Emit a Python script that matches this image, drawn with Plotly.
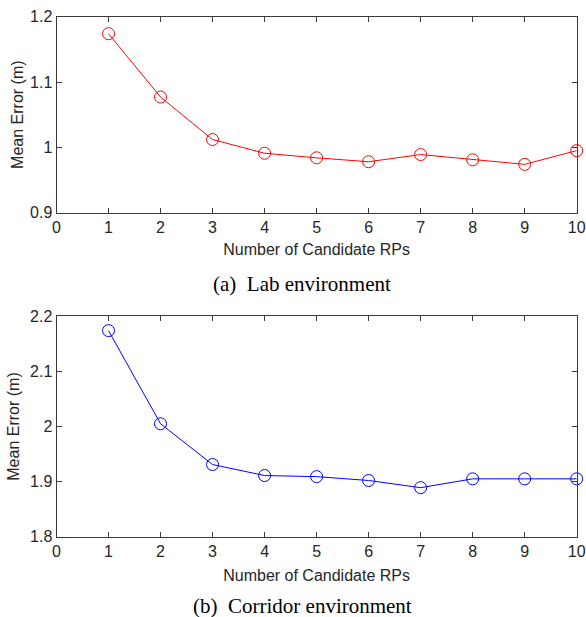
import plotly.graph_objects as go

candidates = [1, 2, 3, 4, 5, 6, 7, 8, 9, 10]
lab_error = [1.174, 1.077, 1.012, 0.991, 0.984, 0.978, 0.989, 0.981, 0.974, 0.995]
corridor_error = [2.174, 2.005, 1.931, 1.911, 1.909, 1.902, 1.889, 1.905, 1.905, 1.905]

x_ticks = [0, 1, 2, 3, 4, 5, 6, 7, 8, 9, 10]
lab_yticks = [0.9, 1.0, 1.1, 1.2]
lab_yticktext = ["0.9", "1", "1.1", "1.2"]
cor_yticks = [1.8, 1.9, 2.0, 2.1, 2.2]
cor_yticktext = ["1.8", "1.9", "2", "2.1", "2.2"]

x_title = "Number of Candidate RPs"
y_title = "Mean Error (m)"
cap_a = "(a)\u00a0\u00a0Lab environment"
cap_b = "(b)\u00a0\u00a0Corridor environment"

W, H = 586, 617
sans = "Liberation Sans, Arial, sans-serif"
serif = "Liberation Serif, Times New Roman, serif"
txt = "#262626"
axc = "#3a3a3a"
fs = 16

def px(xp):
    return xp / W

def py(yp):
    return (H - yp) / H

fig = go.Figure()
fig.add_trace(go.Scatter(x=candidates, y=lab_error, mode="lines+markers",
                         line=dict(color="#ff0000", width=1),
                         marker=dict(symbol="circle-open", size=12, color="#ff0000", line=dict(width=1)),
                         cliponaxis=False, xaxis="x", yaxis="y", showlegend=False))
fig.add_trace(go.Scatter(x=candidates, y=corridor_error, mode="lines+markers",
                         line=dict(color="#0000ff", width=1),
                         marker=dict(symbol="circle-open", size=12, color="#0000ff", line=dict(width=1)),
                         cliponaxis=False, xaxis="x2", yaxis="y2", showlegend=False))

xd = [px(56.5), px(576.7)]
top_y = [py(212.7), py(16.7)]
bot_y = [py(536.7), py(316.3)]

def xax(anchor, standoff):
    return dict(domain=xd, anchor=anchor, range=[0, 10], tickvals=x_ticks,
                ticks="inside", ticklen=5, tickcolor=axc, showline=True, linecolor=axc,
                linewidth=1, mirror="allticks", showgrid=False, zeroline=False,
                automargin=False,
                tickfont=dict(family=sans, size=fs, color=txt),
                title=dict(text=x_title, font=dict(family=sans, size=fs, color=txt), standoff=standoff))

def yax(anchor, dom, rng, tv, tt, standoff):
    return dict(domain=dom, anchor=anchor, range=rng, tickvals=tv, ticktext=tt,
                ticks="inside", ticklen=5, tickcolor=axc, showline=True, linecolor=axc,
                linewidth=1, mirror="allticks", showgrid=False, zeroline=False,
                automargin=False,
                tickfont=dict(family=sans, size=fs, color=txt),
                title=dict(text=y_title, font=dict(family=sans, size=fs, color=txt), standoff=standoff))

fig.update_layout(
    width=W, height=H, margin=dict(l=0, r=0, t=0, b=0, autoexpand=False),
    paper_bgcolor="white", plot_bgcolor="white",
    xaxis=xax("y", 8), yaxis=yax("x", top_y, [0.9, 1.2], lab_yticks, lab_yticktext, 2),
    xaxis2=xax("y2", 10), yaxis2=yax("x2", bot_y, [1.8, 2.2], cor_yticks, cor_yticktext, 6),
    annotations=[
        dict(text=cap_a, x=px(301.5), y=py(284), xref="paper", yref="paper",
             xanchor="center", yanchor="middle", showarrow=False,
             font=dict(family=serif, size=21, color="black")),
        dict(text=cap_b, x=px(302), y=py(606), xref="paper", yref="paper",
             xanchor="center", yanchor="middle", showarrow=False,
             font=dict(family=serif, size=21, color="black")),
    ],
)

fig.write_html("out.html")
